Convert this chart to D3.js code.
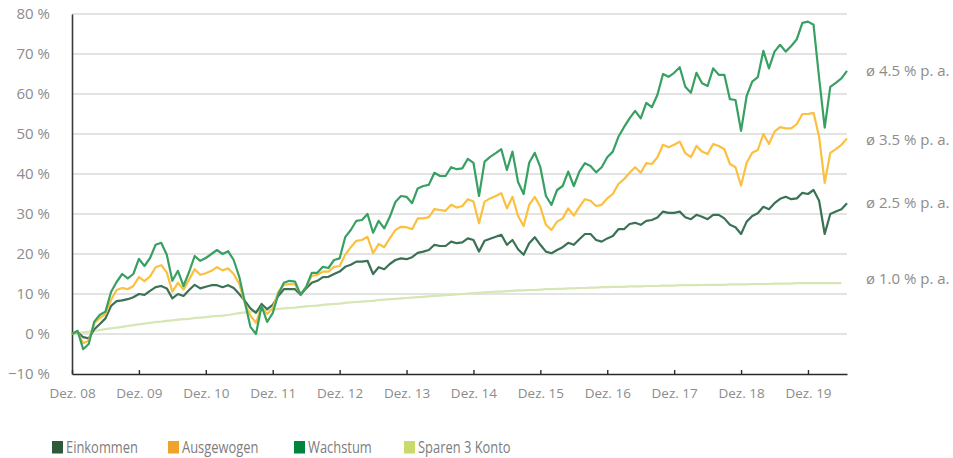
<!DOCTYPE html>
<html><head><meta charset="utf-8">
<script src="https://cdn.jsdelivr.net/npm/d3@7"></script>
<style>body{margin:0;background:#fff}svg{display:block}text{font-family:'Open Sans',sans-serif}</style>
</head><body><svg id="c" width="953" height="458"></svg>
<script>
// Monthly data, Dez. 08 (index 0) to Jul. 20
const seriesNames = ["Einkommen", "Ausgewogen", "Wachstum", "Sparen 3 Konto"];
const einkommen = [0,0.5,-0.8,-1.1,1.2,2.5,3.9,7,8.2,8.4,
8.7,9.2,10,9.8,10.8,11.7,12,11.4,8.9,10,
9.5,11,12.3,11.4,11.8,12.2,12.2,11.7,12.2,11.5,
10,8.3,6.4,5.3,7.5,6.2,7.3,9.5,11.2,11.2,
11.2,9.8,11.4,12.8,13.3,14.2,14.3,15,15.6,16.8,
17.3,18.1,18.1,18.3,15,16.7,16.2,17.5,18.5,18.9,
18.7,19.2,20.3,20.6,21,22.3,22,22,23.1,22.7,
22.9,23.9,23.5,20.6,23.3,23.8,24.3,24.8,22.3,23.5,
21.2,19.8,22.7,24.2,22.3,20.6,20.2,21,21.7,22.8,
22.3,23.7,25,25,23.5,23.1,23.9,24.5,26.2,26.2,
27.5,27.8,27.3,28.3,28.5,29.1,30.6,30.3,30.3,30.6,
29.2,28.7,29.8,29.3,28.7,29.8,29.8,28.9,27.3,26.7,
25,28.1,29.5,30.2,31.8,31.2,32.7,33.8,34.3,33.7,
33.9,35.3,35,36,33.3,25,30,30.6,31.2,32.7];
const ausgewogen = [0,0.5,-2.3,-1.7,2.7,4,5,8.5,11,11.5,
11.2,12,14.2,13.2,14.4,16.7,17.2,15.4,10.6,12.8,
11.1,13.6,16.2,14.8,15.2,15.8,16.7,15.9,16.4,15,
12.5,7.7,4.6,2.8,6.8,5,6.4,10.5,12.3,12.5,
12.4,10,11.8,14.5,14.8,15.6,15.6,16.8,17,19.8,
21.7,23.3,23.5,24.3,20.2,22.5,21.7,23.9,26,26.8,
26.7,26.2,28.9,28.9,29.2,31.2,31,30.8,32.3,31.6,
32,33.7,33.1,27.7,33.1,33.9,34.5,35.2,31.4,34.3,
29.5,27,32.3,34.3,31.8,27.3,26,28.1,28.9,31.4,
29.6,31.8,33.7,33.3,32,32.3,33.9,35,37.5,38.7,
40.3,41.7,40.3,42.7,42.5,44.2,47.3,46.7,47.3,48.1,
45.2,44.2,47,45.6,45,47.5,47,46.2,42.5,41.7,
37.1,42.8,45.3,46,50,47.5,50.6,51.7,51.4,51.4,
52.5,55,55,55.3,49.3,37.8,45.3,46.2,47.3,48.9];
const wachstum = [0,0.8,-3.8,-2.5,3.1,4.8,5.6,10.5,13,15,
13.9,15,18.8,17,19,22.3,22.8,19.8,13.3,15.8,
12,15.5,19.5,18.3,19,20,21,20,20.7,18.5,
14.3,8,1.8,0,7,3,5.2,10,12.8,13.3,
13.1,9.8,11.8,15.3,15.3,16.8,16.5,18.5,18.9,24.2,
26,28.3,28.5,30,25.3,28.3,26.4,29.3,33,34.5,
34.3,32.7,36.4,37,37.3,40.3,39.5,39.5,41.7,41.2,
41.4,43.8,42.8,34.5,43.1,44.3,45.2,46.2,41,45.6,
38,35,42.8,45.3,41.7,34.5,32.3,36,37,40.6,
37,40.6,42.7,42,40.4,41.7,44.2,45.6,49.3,51.7,
53.9,55.8,53.9,57.8,56.7,59.8,65,64.3,65.3,66.7,
61.8,60.3,65.3,62.7,62,66.4,64.8,64.8,58.7,58.5,
50.8,59.5,63.1,64.2,70.8,66.4,70.6,72.3,70.6,72,
73.7,77.8,78.1,77.3,64,51.6,61.8,62.8,63.9,65.8];
const sparen = [0,0.2,0.4,0.6,0.8,1.0,1.2,1.4,1.6,1.8,
2.0,2.2,2.4,2.6,2.8,3.0,3.1,3.3,3.4,3.6,
3.7,3.8,4.0,4.1,4.2,4.4,4.5,4.6,4.75,5.0,
5.2,5.4,5.6,5.8,5.9,6.0,6.1,6.3,6.4,6.5,
6.6,6.8,6.9,7.0,7.1,7.3,7.4,7.5,7.6,7.8,
7.9,8.0,8.1,8.2,8.3,8.5,8.6,8.7,8.8,8.9,
9.0,9.1,9.2,9.3,9.4,9.5,9.6,9.7,9.8,9.9,
10.0,10.1,10.2,10.3,10.4,10.5,10.6,10.6,10.7,10.8,
10.9,10.9,11.0,11.0,11.1,11.2,11.2,11.3,11.3,11.4,
11.4,11.5,11.5,11.6,11.6,11.7,11.7,11.8,11.8,11.8,
11.9,11.9,11.9,12.0,12.0,12.0,12.1,12.1,12.1,12.2,
12.2,12.2,12.2,12.25,12.3,12.3,12.3,12.3,12.4,12.4,
12.4,12.4,12.5,12.5,12.5,12.5,12.6,12.6,12.6,12.6,
12.7,12.7,12.7,12.7,12.7,12.7,12.7,12.7,12.7];
const xTickMonths = [0,12,24,36,48,60,72,84,96,108,120,132];
const xTickLabels = ["Dez. 08","Dez. 09","Dez. 10","Dez. 11","Dez. 12","Dez. 13","Dez. 14","Dez. 15","Dez. 16","Dez. 17","Dez. 18","Dez. 19"];
const yTicks = [-10,0,10,20,30,40,50,60,70,80];
const yTickLabels = ["\u221210 %","0 %","10 %","20 %","30 %","40 %","50 %","60 %","70 %","80 %"];
const rateLabels = ["ø 2.5 % p. a.","ø 3.5 % p. a.","ø 4.5 % p. a.","ø 1.0 % p. a."];

const lineColors = ["#3b7154","#fbc03f","#38a063","#d6e6b4"];
const legendColors = ["#2d5a3b","#f1a22b","#00843e","#c8da6c"];

const svg = d3.select("#c");
const L = 72, R = 847, T = 14, B = 374;
const x = d3.scaleLinear().domain([0,139]).range([L,R]);
const y = d3.scaleLinear().domain([-10,80]).range([B,T]);

// gridlines
svg.append("g").selectAll("line").data(yTicks.filter(v=>v>-10)).join("line")
  .attr("x1",L).attr("x2",R).attr("y1",d=>y(d)).attr("y2",d=>y(d))
  .attr("stroke","#dadada").attr("stroke-width",1.3);

// y axis labels
const yAxis = d3.axisLeft(y).tickValues(yTicks).tickFormat((d,i)=>yTickLabels[i]).tickSize(0).tickPadding(22);
const gy = svg.append("g").attr("transform",`translate(${L},0)`).call(yAxis);
gy.select(".domain").attr("stroke","#3a3a3a").attr("stroke-width",1.6);
gy.selectAll("text").attr("fill","#8c8c8c").style("font-size","15px").style("font-family","'Open Sans',sans-serif");

// x axis
const xAxis = d3.axisBottom(x).tickValues(xTickMonths).tickFormat((d,i)=>xTickLabels[i]).tickSizeInner(-4).tickSizeOuter(0).tickPadding(14);
const gx = svg.append("g").attr("transform",`translate(0,${B})`).call(xAxis);
gx.select(".domain").attr("stroke","#2a2a2a").attr("stroke-width",1.6);
gx.selectAll(".tick line").attr("stroke","#2a2a2a").attr("stroke-width",1.4);
gx.selectAll("text").attr("fill","#8c8c8c").style("font-size","13.5px").style("font-family","'Open Sans',sans-serif");

// lines
const all = [einkommen, ausgewogen, wachstum, sparen];
const order = [3,0,1,2];
const line = d3.line().x((d,i)=>x(i)).y(d=>y(d)).curve(d3.curveLinear);
order.forEach(k=>{
  svg.append("path").datum(all[k]).attr("d",line).attr("fill","none")
    .attr("stroke",lineColors[k]).attr("stroke-width",2.2).attr("stroke-linejoin","round");
});

// rate labels
const rateDy = [0,1.5,0,-4];
all.forEach((s,k)=>{
  svg.append("text").attr("x",866).attr("y",y(s[s.length-1])+rateDy[k]).attr("dy","0.35em")
    .attr("fill","#8c8c8c").style("font-size","15px").text(rateLabels[k]);
});

// legend
const legX = [52,168,294,404];
seriesNames.forEach((n,k)=>{
  const g = svg.append("g").attr("transform",`translate(${legX[k]},441)`);
  g.append("rect").attr("width",11).attr("height",12.5).attr("fill",legendColors[k]);
  g.append("text").attr("transform","translate(14,11.5) scale(0.76,1)")
    .attr("fill","#7d7d7d").style("font-size","17px").text(n);
});
</script></body></html>
